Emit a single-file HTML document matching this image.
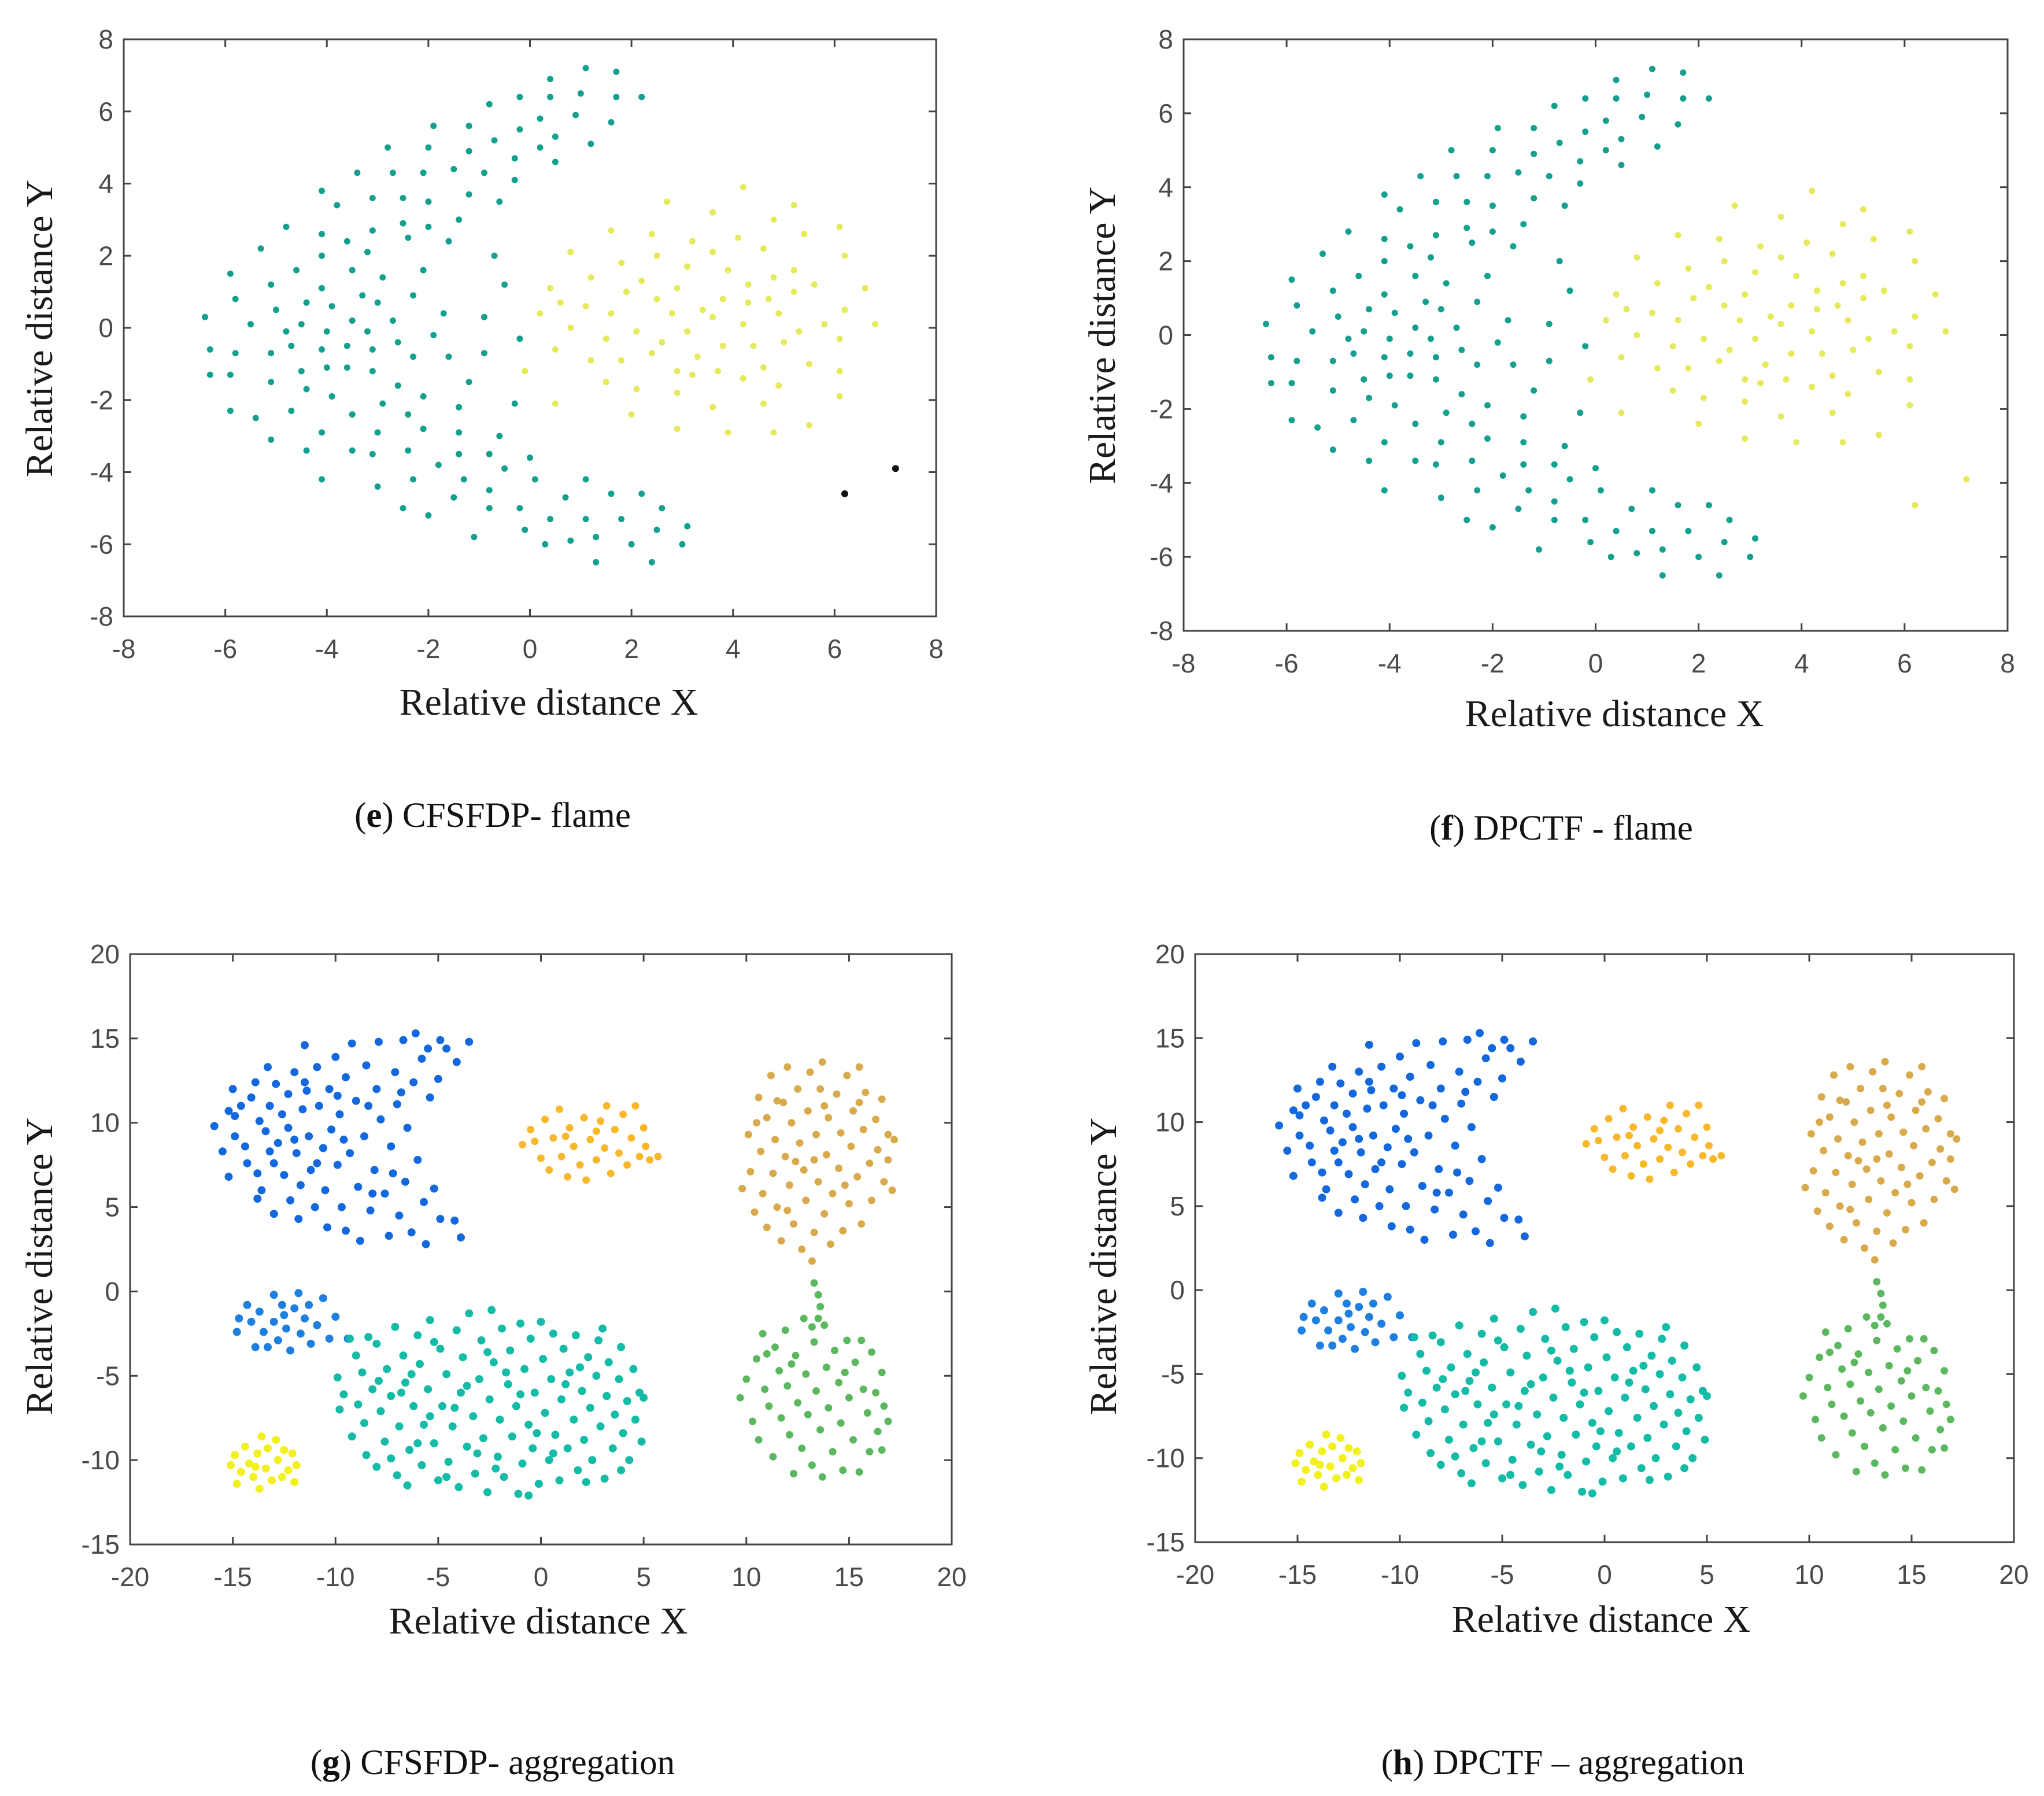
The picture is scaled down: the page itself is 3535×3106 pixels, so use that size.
<!DOCTYPE html>
<html><head><meta charset="utf-8"><style>
html,body{margin:0;padding:0;background:#fff;}
svg{display:block;}
</style></head><body>
<svg id="fig" xmlns="http://www.w3.org/2000/svg" width="3535" height="3106" viewBox="0 0 3535 3106">
<rect width="3535" height="3106" fill="#fff"/>
</svg>
<script>
const flameTeal=[[1.1,7.2],[1.7,7.1],[0.4,6.9],[-0.2,6.4],[0.4,6.4],[1.0,6.5],[1.7,6.4],[2.2,6.4],[-0.8,6.2],[-0.2,5.5],[0.2,5.8],[0.9,5.9],[1.6,5.7],[-1.9,5.6],[-1.2,5.6],[-0.7,5.2],[0.2,5.0],[0.5,5.3],[1.2,5.1],[-2.8,5.0],[-2.0,5.0],[-1.2,4.9],[-0.3,4.7],[0.5,4.6],[-3.4,4.3],[-2.7,4.3],[-2.1,4.3],[-1.5,4.4],[-0.9,4.3],[-0.3,4.1],[-4.1,3.8],[-3.8,3.4],[-3.1,3.6],[-2.5,3.6],[-2.0,3.5],[-1.2,3.7],[-0.6,3.5],[-4.8,2.8],[-4.1,2.6],[-3.6,2.4],[-3.1,2.7],[-2.5,2.9],[-2.0,2.8],[-1.4,3.0],[-5.3,2.2],[-4.6,1.6],[-4.1,2.0],[-3.2,2.1],[-2.4,2.5],[-1.6,2.4],[-0.7,2.0],[-5.9,1.5],[-5.1,1.2],[-4.1,1.1],[-3.5,1.6],[-2.9,1.4],[-2.1,1.6],[-0.5,1.2],[-5.8,0.8],[-5.0,0.5],[-4.4,0.7],[-3.9,0.6],[-3.3,0.9],[-3.0,0.7],[-2.3,0.9],[-1.7,0.4],[-6.4,0.3],[-5.5,0.1],[-4.8,-0.1],[-4.5,0.1],[-3.5,0.2],[-2.7,0.2],[-4.0,-0.1],[-3.2,-0.1],[-2.6,-0.4],[-1.9,-0.2],[-0.9,0.3],[-0.2,-0.3],[-6.3,-0.6],[-5.8,-0.7],[-5.1,-0.7],[-4.7,-0.5],[-4.1,-0.6],[-3.6,-0.5],[-3.1,-0.6],[-2.3,-0.8],[-1.6,-0.8],[-0.9,-0.7],[-6.3,-1.3],[-5.9,-1.3],[-5.1,-1.5],[-4.5,-1.2],[-4.0,-1.1],[-3.6,-1.1],[-3.1,-1.2],[-2.6,-1.6],[-1.2,-1.5],[-4.4,-1.7],[-3.9,-1.9],[-2.9,-2.1],[-2.1,-1.9],[-1.4,-2.2],[-0.3,-2.1],[-5.9,-2.3],[-5.4,-2.5],[-4.7,-2.3],[-3.5,-2.4],[-2.4,-2.4],[-5.1,-3.1],[-4.1,-2.9],[-3.0,-2.9],[-2.1,-2.8],[-1.4,-2.9],[-0.6,-3.0],[-4.4,-3.4],[-3.5,-3.4],[-3.1,-3.5],[-2.4,-3.4],[-1.4,-3.5],[-0.8,-3.5],[0.0,-3.6],[-4.1,-4.2],[-3.0,-4.4],[-2.3,-4.2],[-1.8,-3.8],[-1.3,-4.2],[-0.5,-3.9],[0.1,-4.2],[-2.5,-5.0],[-2.0,-5.2],[-1.5,-4.7],[-0.8,-4.5],[-0.2,-5.0],[0.7,-4.7],[1.1,-4.2],[1.6,-4.6],[2.2,-4.6],[-0.8,-5.0],[0.4,-5.3],[1.1,-5.3],[1.8,-5.3],[2.6,-5.0],[3.1,-5.5],[-1.1,-5.8],[-0.1,-5.6],[0.8,-5.9],[1.3,-5.8],[2.5,-5.6],[0.3,-6.0],[2.0,-6.0],[3.0,-6.0],[1.3,-6.5],[2.4,-6.5]];
const flameYellow=[[2.7,3.5],[4.2,3.9],[5.2,3.4],[3.6,3.2],[1.6,2.7],[2.4,2.6],[4.8,3.0],[6.1,2.8],[0.8,2.1],[3.2,2.4],[4.1,2.5],[5.4,2.6],[2.5,2.0],[3.6,2.1],[4.6,2.2],[6.2,2.0],[1.8,1.8],[3.1,1.7],[3.9,1.6],[5.2,1.6],[0.4,1.1],[1.2,1.4],[2.2,1.3],[2.9,1.1],[4.3,1.2],[4.8,1.4],[5.6,1.2],[6.6,1.1],[0.6,0.7],[1.1,0.6],[1.9,1.0],[2.5,0.8],[3.4,0.5],[3.8,0.8],[4.3,0.7],[4.7,0.8],[5.2,1.0],[6.2,0.5],[0.2,0.4],[0.8,0.0],[1.6,0.4],[2.1,-0.1],[2.8,0.4],[3.6,0.3],[4.2,0.1],[4.9,0.4],[5.8,0.1],[6.8,0.1],[0.5,-0.6],[1.5,-0.3],[2.6,-0.4],[3.1,-0.1],[3.8,-0.5],[4.4,-0.5],[5.0,-0.4],[5.3,-0.1],[6.1,-0.3],[-0.1,-1.2],[1.2,-0.9],[1.8,-0.9],[2.4,-0.7],[3.3,-0.8],[3.7,-1.2],[4.6,-1.1],[5.5,-1.0],[6.1,-1.2],[1.5,-1.5],[2.9,-1.2],[3.2,-1.3],[4.2,-1.4],[0.5,-2.1],[2.1,-1.7],[2.9,-1.8],[3.6,-2.2],[4.6,-2.1],[4.9,-1.6],[6.1,-1.9],[2.0,-2.4],[2.9,-2.8],[3.9,-2.9],[4.8,-2.9],[5.5,-2.7]];
const flameOutliers=[[6.2,-4.6],[7.2,-3.9]];

const aggBlueBig=[[-15.9,9.8],[-15.5,8.3],[-15.2,6.8],[-15.2,10.7],[-15.0,12.0],[-14.9,9.2],[-14.9,10.4],[-14.4,8.6],[-14.3,7.6],[-14.1,11.5],[-13.9,12.4],[-13.8,7.0],[-13.8,5.5],[-13.7,10.1],[-13.6,6.0],[-13.4,9.5],[-13.3,13.3],[-13.2,8.3],[-13.2,11.0],[-13.0,4.6],[-12.9,12.3],[-12.8,8.8],[-12.6,10.5],[-12.5,6.9],[-12.3,9.7],[-12.3,11.7],[-12.2,5.4],[-12.0,13.0],[-11.9,8.2],[-11.8,4.3],[-11.7,6.3],[-11.6,10.8],[-11.5,12.4],[-11.5,14.6],[-11.3,9.2],[-11.2,7.2],[-11.0,5.0],[-10.9,13.3],[-10.8,11.0],[-10.6,8.5],[-10.5,6.0],[-10.4,3.8],[-10.3,12.0],[-10.2,9.6],[-10.0,13.9],[-9.9,7.5],[-9.8,10.5],[-9.7,5.0],[-9.5,3.6],[-9.5,12.7],[-9.3,8.2],[-9.2,14.7],[-9.0,11.3],[-8.9,6.2],[-8.8,3.0],[-8.6,9.2],[-8.5,13.4],[-8.3,4.8],[-8.1,7.2],[-8.0,12.0],[-7.9,14.8],[-7.8,10.2],[-7.6,5.8],[-7.4,3.3],[-7.3,8.6],[-7.1,13.0],[-7.0,11.1],[-6.9,4.5],[-6.7,14.9],[-6.6,6.5],[-6.5,9.7],[-6.3,3.5],[-6.2,12.4],[-6.1,15.3],[-6.0,7.8],[-5.8,13.8],[-5.7,5.3],[-5.6,2.8],[-5.5,14.4],[-5.4,11.5],[-5.2,6.1],[-4.9,14.9],[-4.6,14.4],[-4.1,13.6],[-4.2,4.2],[-3.9,3.2],[-3.5,14.8],[-5.0,12.6],[-4.9,4.3],[-14.6,11.0],[-12.0,9.0],[-10.9,7.6],[-9.6,9.0],[-8.4,11.0],[-7.2,7.0],[-11.4,11.9],[-13.0,7.6],[-8.2,5.8],[-6.8,11.8],[-9.9,11.6]];
const aggBlueSmall=[[-14.8,-2.4],[-14.7,-1.6],[-14.3,-0.8],[-14.1,-1.8],[-13.9,-3.3],[-13.7,-1.2],[-13.5,-2.4],[-13.3,-3.3],[-13.0,-0.2],[-13.0,-1.8],[-12.8,-2.9],[-12.6,-0.8],[-12.5,-1.4],[-12.4,-2.2],[-12.2,-3.5],[-12.0,-1.0],[-11.8,-0.1],[-11.7,-2.5],[-11.5,-1.6],[-11.3,-0.8],[-11.2,-3.1],[-10.9,-2.0],[-10.6,-0.4],[-10.3,-2.8],[-10.0,-1.5],[-9.4,-2.8]];
const aggOrange=[[-0.9,8.7],[-0.5,9.6],[-0.3,8.9],[0.0,7.9],[0.2,10.2],[0.4,7.2],[0.6,9.1],[0.9,10.8],[1.0,8.0],[1.3,6.8],[1.4,9.7],[1.6,8.6],[1.9,7.5],[2.1,10.3],[2.2,6.6],[2.4,9.0],[2.7,7.8],[2.9,10.1],[3.1,8.5],[3.2,11.0],[3.4,7.0],[3.6,9.6],[3.8,8.2],[4.0,10.5],[4.2,7.5],[4.4,9.1],[4.6,11.0],[4.8,8.0],[5.0,9.7],[5.3,7.8],[5.7,8.0],[5.1,8.6],[2.7,9.5],[1.2,9.2]];
const aggGold=[[9.8,6.1],[10.1,9.3],[10.2,7.1],[10.4,4.7],[10.6,11.5],[10.7,8.3],[10.8,5.8],[11.0,3.8],[11.0,10.3],[11.2,12.8],[11.3,7.0],[11.4,9.0],[11.5,5.0],[11.7,3.0],[11.8,11.2],[11.9,8.0],[12.0,13.3],[12.1,6.3],[12.2,10.0],[12.3,4.0],[12.5,12.0],[12.6,8.8],[12.7,2.5],[12.8,7.2],[12.9,5.4],[13.0,10.7],[13.1,13.0],[13.2,1.8],[13.3,3.5],[13.4,9.3],[13.5,6.5],[13.6,12.0],[13.7,13.6],[13.8,4.6],[13.9,8.1],[14.0,10.3],[14.1,2.8],[14.2,5.8],[14.4,11.7],[14.5,7.3],[14.6,9.4],[14.7,3.6],[14.9,12.8],[15.0,5.2],[15.1,8.6],[15.2,10.7],[15.4,6.8],[15.5,13.3],[15.6,4.0],[15.7,9.6],[15.8,11.8],[16.0,7.6],[16.1,5.4],[16.3,10.2],[16.4,8.4],[16.6,11.4],[16.7,6.5],[16.9,9.3],[17.1,6.0],[17.2,9.0],[16.9,7.8],[12.4,7.7],[14.8,6.3],[11.5,11.3],[12.0,4.8],[13.8,11.0],[10.5,10.0],[15.5,11.2],[13.3,7.8]];
const aggGreen=[[13.3,0.5],[13.5,-0.2],[13.6,-0.9],[13.5,-1.6],[13.2,-2.1],[9.7,-6.3],[10.0,-5.2],[10.3,-7.7],[10.5,-4.0],[10.6,-8.8],[10.8,-2.5],[10.9,-5.8],[11.1,-6.8],[11.3,-9.8],[11.4,-3.3],[11.6,-4.7],[11.7,-7.5],[11.9,-2.3],[12.0,-5.6],[12.1,-8.5],[12.3,-10.8],[12.4,-3.8],[12.5,-6.6],[12.7,-9.3],[12.8,-1.6],[12.9,-4.9],[13.0,-7.3],[13.2,-10.3],[13.3,-3.0],[13.4,-5.9],[13.6,-8.2],[13.7,-11.0],[13.8,-2.0],[13.9,-4.5],[14.0,-6.9],[14.2,-9.5],[14.3,-3.5],[14.5,-5.4],[14.6,-7.8],[14.7,-10.6],[14.9,-2.9],[15.0,-6.3],[15.2,-8.8],[15.3,-4.2],[15.5,-10.7],[15.6,-2.9],[15.7,-5.8],[15.9,-7.2],[16.0,-9.5],[16.1,-3.6],[16.3,-6.0],[16.4,-8.3],[16.6,-4.8],[16.7,-6.8],[16.9,-7.7],[16.6,-9.4],[11.0,-3.7],[12.2,-4.3],[14.8,-4.8]];
const aggTeal=[[-9.9,-5.1],[-9.6,-6.1],[-9.8,-7.0],[-9.2,-8.6],[-9.0,-3.8],[-8.9,-6.7],[-8.7,-4.8],[-8.6,-7.8],[-8.5,-9.7],[-8.2,-5.8],[-8.0,-3.1],[-8.0,-10.4],[-7.8,-7.1],[-7.6,-8.9],[-7.5,-4.6],[-7.3,-6.2],[-7.1,-2.1],[-7.0,-10.9],[-6.9,-8.0],[-6.7,-3.8],[-6.6,-5.4],[-6.5,-11.5],[-6.4,-9.4],[-6.2,-6.8],[-6.0,-2.6],[-5.9,-4.3],[-5.8,-10.3],[-5.7,-7.9],[-5.5,-5.8],[-5.4,-1.7],[-5.2,-9.0],[-5.0,-11.2],[-4.9,-3.4],[-4.8,-6.8],[-4.6,-4.9],[-4.5,-10.1],[-4.3,-8.0],[-4.1,-2.3],[-4.0,-11.6],[-3.9,-6.0],[-3.8,-3.9],[-3.6,-9.2],[-3.5,-1.3],[-3.3,-7.4],[-3.2,-10.8],[-3.0,-5.2],[-2.9,-2.9],[-2.8,-8.7],[-2.6,-11.9],[-2.5,-6.4],[-2.4,-1.1],[-2.3,-4.2],[-2.1,-9.8],[-2.0,-7.6],[-1.9,-2.2],[-1.8,-11.0],[-1.6,-5.5],[-1.5,-3.5],[-1.4,-8.6],[-1.2,-6.8],[-1.1,-12.0],[-1.0,-1.9],[-0.9,-10.2],[-0.8,-4.6],[-0.6,-7.9],[-0.5,-2.8],[-0.4,-9.3],[-0.3,-6.0],[-0.1,-11.4],[0.0,-1.8],[0.1,-4.0],[0.2,-7.2],[0.4,-10.0],[0.5,-5.2],[0.6,-2.5],[0.7,-8.5],[0.9,-11.2],[1.0,-6.4],[1.1,-3.4],[1.3,-9.3],[1.4,-4.8],[1.6,-7.6],[1.7,-2.6],[1.8,-10.6],[2.0,-5.9],[2.1,-8.8],[2.3,-3.9],[2.4,-6.9],[2.5,-10.0],[2.7,-5.0],[2.8,-2.9],[2.9,-8.0],[3.1,-11.1],[3.2,-6.2],[3.3,-4.2],[3.5,-9.3],[3.6,-7.3],[3.8,-5.2],[3.9,-3.3],[4.0,-8.4],[4.2,-6.5],[4.3,-10.0],[4.5,-4.6],[4.6,-7.6],[4.8,-6.0],[4.9,-8.9],[5.0,-6.3],[-9.3,-2.8],[-6.8,-6.0],[-4.2,-6.9],[-1.7,-4.8],[1.2,-5.5],[-3.1,-9.6],[-0.2,-8.4],[-5.4,-7.4],[-7.3,-9.9],[3.0,-2.2],[-8.4,-2.7],[-6.0,-9.0],[-4.6,-11.0],[-2.6,-3.6],[-1.0,-6.1],[0.6,-9.6],[2.2,-11.3],[1.9,-4.5],[-3.6,-5.6],[-7.9,-5.3],[-5.2,-3.0],[3.9,-10.6],[-0.6,-12.1],[-2.2,-10.5],[-6.3,-4.9]];
const aggYellow=[[-15.1,-10.3],[-14.9,-9.7],[-14.8,-11.4],[-14.6,-10.7],[-14.4,-9.2],[-14.2,-10.2],[-14.0,-11.0],[-13.8,-9.6],[-13.7,-11.7],[-13.6,-8.6],[-13.4,-10.5],[-13.3,-9.3],[-13.1,-11.2],[-12.9,-8.8],[-12.8,-10.0],[-12.6,-11.0],[-12.5,-9.4],[-12.3,-10.6],[-12.1,-9.6],[-12.0,-11.3],[-11.9,-10.3],[-13.9,-10.4]];

const flameTicks=[-8,-6,-4,-2,0,2,4,6,8];
const aggTicksX=[-20,-15,-10,-5,0,5,10,15,20];
const aggTicksY=[-15,-10,-5,0,5,10,15,20];

const NS='http://www.w3.org/2000/svg';
const svg=document.getElementById('fig');
function mk(tag,attrs,parent){const e=document.createElementNS(NS,tag);for(const k in attrs)e.setAttribute(k,attrs[k]);(parent||svg).appendChild(e);return e;}

function panel(id,box,xd,yd,xt,yt,series,xlab,ylab,cap){
  const g=mk('g',{});
  
  
  const sx=v=>box.L+(v-xd[0])/(xd[1]-xd[0])*(box.R-box.L);
  const sy=v=>box.B-(v-yd[0])/(yd[1]-yd[0])*(box.B-box.T);
  series.forEach(s=>{
    const sg=mk('g',{fill:s.color},g);
    
    
    s.data.forEach(p=>{
      const c=mk('circle',{cx:sx(p[0]).toFixed(1),cy:sy(p[1]).toFixed(1),r:s.r},sg);
      
      
    });
  });
  const fr=mk('rect',{x:box.L,y:box.T,width:box.R-box.L,height:box.B-box.T,fill:'none',stroke:'#444','stroke-width':3},g);
  
  
  const tk=13;
  xt.forEach(v=>{
    const x=sx(v);
    mk('line',{x1:x,y1:box.B,x2:x,y2:box.B-tk,stroke:'#444','stroke-width':3},g);
    mk('line',{x1:x,y1:box.T,x2:x,y2:box.T+tk,stroke:'#444','stroke-width':3},g);
    const t=mk('text',{x:x,y:box.B+72,'text-anchor':'middle','font-family':'Liberation Sans, sans-serif','font-size':46,fill:'#4a4a4a'},g);
    
    
    t.textContent=v;
  });
  yt.forEach(v=>{
    const y=sy(v);
    mk('line',{x1:box.L,y1:y,x2:box.L+tk,y2:y,stroke:'#444','stroke-width':3},g);
    mk('line',{x1:box.R,y1:y,x2:box.R-tk,y2:y,stroke:'#444','stroke-width':3},g);
    const t=mk('text',{x:box.L-18,y:y+16,'text-anchor':'end','font-family':'Liberation Sans, sans-serif','font-size':46,fill:'#4a4a4a'},g);
    
    
    t.textContent=v;
  });
  const xl=mk('text',{x:xlab[0],y:xlab[1],'text-anchor':'middle','font-family':'Liberation Serif, serif','font-size':66,fill:'#1a1a1a'},g);
  
  
  xl.textContent='Relative distance X';
  const yl=mk('text',{x:0,y:0,'text-anchor':'middle','font-family':'Liberation Serif, serif','font-size':66,fill:'#1a1a1a',transform:'translate('+ylab[0]+','+ylab[1]+') rotate(-90)'},g);
  
  
  yl.textContent='Relative distance Y';
  const ct=mk('text',{x:cap[0],y:cap[1],'text-anchor':'middle','font-family':'Liberation Serif, serif','font-size':61,fill:'#111'},g);
  
  
  const t1=mk('tspan',{},ct);t1.textContent='(';
  const t2=mk('tspan',{'font-weight':'bold'},ct);t2.textContent=cap[2];
  const t3=mk('tspan',{},ct);t3.textContent=') '+cap[3];
}
const TEAL='#14a08e',YEL='#e6ea5a';
panel('e',{L:214,R:1619,T:68,B:1066},[-8,8],[-8,8],flameTicks,flameTicks,
 [{name:'cluster-1',data:flameTeal,color:TEAL,r:5.5},{name:'cluster-2',data:flameYellow,color:YEL,r:5.5},{name:'noise',data:flameOutliers,color:'#111',r:6}],
 [949,1236],[90,568],[852,1430,'e','CFSFDP- flame']);
panel('f',{L:2047,R:3472,T:68,B:1091},[-8,8],[-8,8],flameTicks,flameTicks,
 [{name:'cluster-1',data:flameTeal,color:TEAL,r:5.5},{name:'cluster-2',data:flameYellow.concat(flameOutliers),color:YEL,r:5.5}],
 [2792,1256],[1928,580],[2700,1452,'f','DPCTF - flame']);
const aggSeries=[{name:'blue-cluster',data:aggBlueBig,color:'#1268dc',r:7},{name:'blue-small-cluster',data:aggBlueSmall,color:'#1f7fe0',r:7},{name:'orange-cluster',data:aggOrange,color:'#f8b82a',r:6.5},{name:'gold-cluster',data:aggGold,color:'#d9aa4c',r:6.5},{name:'green-cluster',data:aggGreen,color:'#5cb85e',r:6.5},{name:'teal-cluster',data:aggTeal,color:'#14bba6',r:7},{name:'yellow-cluster',data:aggYellow,color:'#f2f01e',r:7}];
panel('g',{L:225,R:1646,T:1650,B:2671},[-20,20],[-15,20],aggTicksX,aggTicksY,aggSeries,[931,2825],[90,2190],[852,3068,'g','CFSFDP- aggregation']);
panel('h',{L:2067,R:3483,T:1650,B:2667},[-20,20],[-15,20],aggTicksX,aggTicksY,aggSeries,[2769,2822],[1930,2190],[2703,3068,'h','DPCTF \u2013 aggregation']);
</script>
</body></html>
